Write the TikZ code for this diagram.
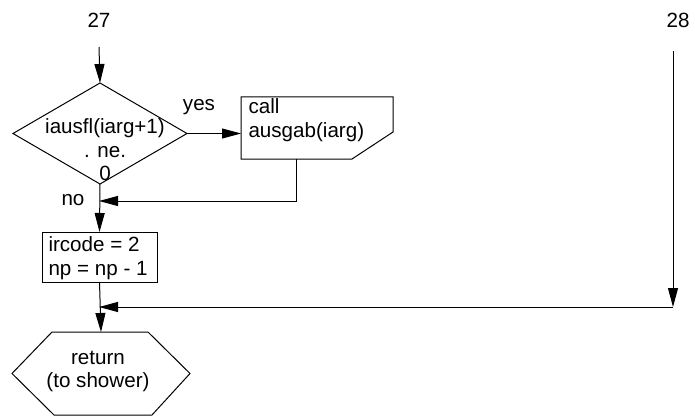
\documentclass[tikz,border=0pt]{standalone}
\usepackage{fontspec}
\setmainfont{Liberation Sans}
\usetikzlibrary{arrows.meta,shapes.geometric,calc}
\tikzset{
  txt/.style={font=\fontsize{20.6}{23.5}\selectfont, inner sep=0pt},
  arr/.style={-{Triangle[length=19pt,width=10pt]}},
  hidden/.style={inner sep=0pt, outer sep=0pt}
}
\begin{document}
\begin{tikzpicture}[x=1pt,y=-1pt, every path/.style={line width=1pt}]
\useasboundingbox (0,0) rectangle (695,417);
% labels
\node[txt] (l27) at (99,20) {27};
\node[txt] (l28) at (678,20) {28};
\coordinate (s27) at (99,47);
\coordinate (s28) at (673,51);
\coordinate (c28) at (673,307);
\coordinate (j2) at (99,307);
\coordinate (j1) at (99,201);
\coordinate (callout) at (296,159);
% decision
\node[diamond, draw, hidden, minimum width=174pt, minimum height=101pt] (dec) at (100,133.5) {};
\node[txt, align=center] (dectxt) at (105,150) {iausfl(iarg+1)\\. ne.\\0};
% call box
\node[hidden, minimum width=152pt, minimum height=62pt] (call) at (317,128) {};
\draw (call.north west) -- (call.north east) -- ($(call.north east)+(0,35)$)
      -- ($(call.south east)+(-41,0)$) -- (call.south west) -- cycle;
\node[txt, align=left, anchor=north west] (calltxt) at (248,98.5) {call\\ausgab(iarg)};
% ops box
\node[draw, hidden, minimum width=115pt, minimum height=50pt] (ops) at (99.5,257) {};
\node[txt, align=left, anchor=west] (opstxt) at (48,258) {ircode = 2\\np = np - 1};
% return hexagon
\node[hidden, minimum width=178pt, minimum height=83pt] (ret) at (101,373.5) {};
\draw (ret.west) -- ($(ret.north west)+(40,0)$) -- ($(ret.north east)+(-42,0)$) -- (ret.east)
      -- ($(ret.south east)+(-38,0)$) -- ($(ret.south west)+(42,0)$) -- cycle;
\node[txt, align=center] (rettxt) at (98,371.5) {return\\(to shower)};
% labels yes/no
\node[txt] (yes) at (199,107) {yes};
\node[txt] (no) at (73,200) {no};
% connectors
\draw[arr] (s27) -- (dec.north);
\draw[arr] (dec.east) -- (dec.east -| call.west);
\draw[arr] (callout) |- (j1);
\draw[arr] (dec.south) -- (ops.north);
\draw[arr] (ops.south) -- (ret.north);
\draw[arr] (s28) -- (c28);
\draw[arr] (c28) -- (j2);
\end{tikzpicture}
\end{document}
